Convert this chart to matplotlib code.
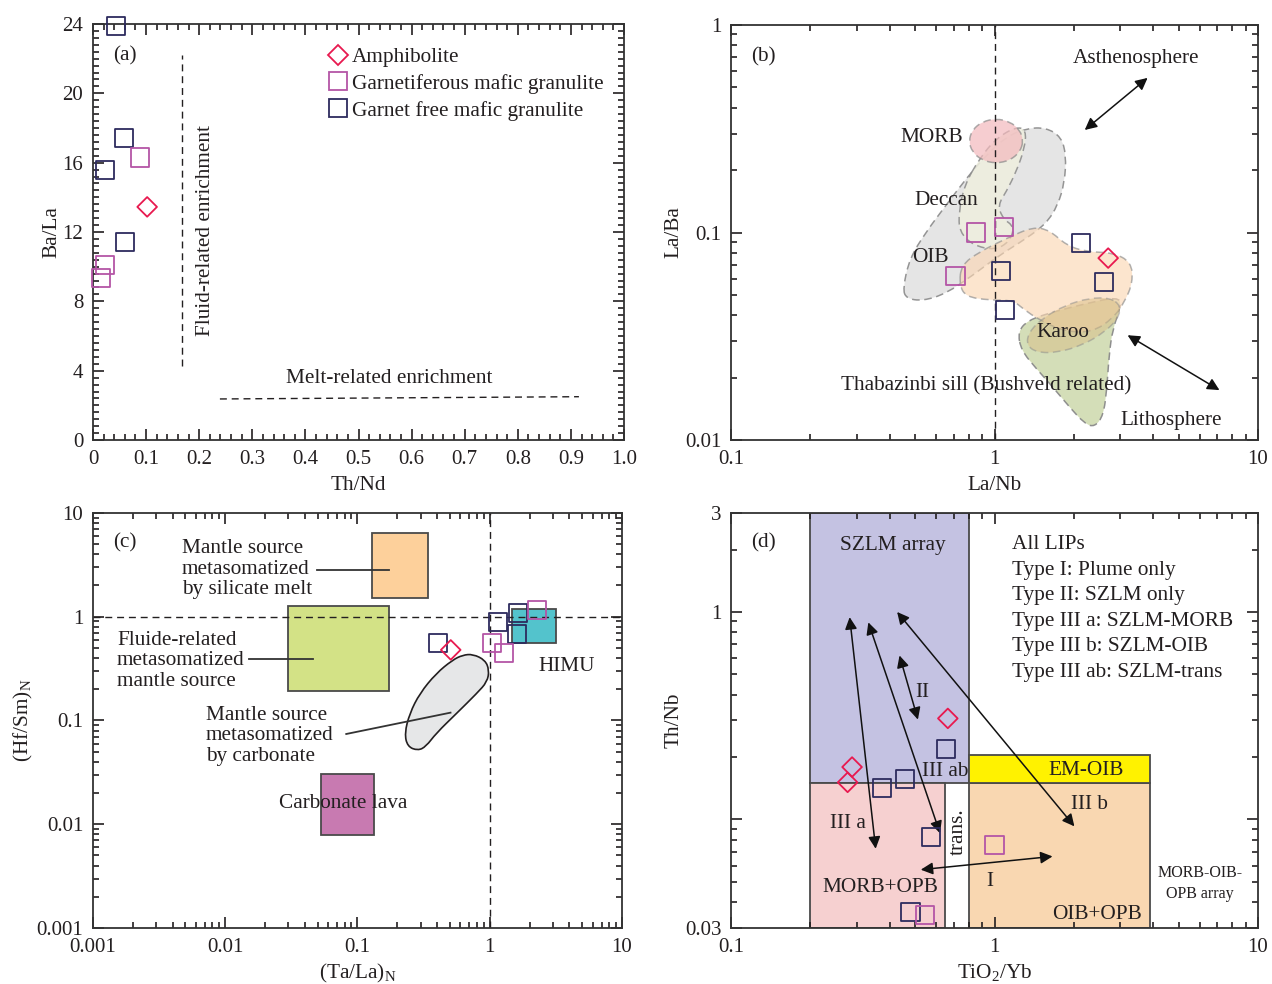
import numpy as np
import matplotlib
matplotlib.use("Agg")
import matplotlib.pyplot as plt
from matplotlib.path import Path
from matplotlib.patches import PathPatch, Rectangle
from matplotlib.ticker import MultipleLocator, LogLocator, NullFormatter, FixedLocator, FixedFormatter
from matplotlib.lines import Line2D

plt.rcParams['font.family'] = ['Liberation Serif', 'DejaVu Serif']
plt.rcParams['mathtext.fontset'] = 'custom'
plt.rcParams['mathtext.rm'] = 'Liberation Serif'
plt.rcParams['font.size'] = 15.3
plt.rcParams['text.color'] = '#231f20'
plt.rcParams['axes.labelcolor'] = '#231f20'
plt.rcParams['xtick.color'] = '#231f20'
plt.rcParams['ytick.color'] = '#231f20'

# colores de las muestras
C_AMPH = '#e8194f'
C_GTF = '#b455a6'
C_GFREE = '#2d2b5e'
TXT = '#231f20'
FS = 15.3

# ---------------- datos (a) Th/Nd vs Ba/La ----------------
a_amph_x = [0.102]
a_amph_y = [13.45]
a_gtf_x = [0.088, 0.023, 0.015]
a_gtf_y = [16.3, 10.1, 9.35]
a_gfree_x = [0.044, 0.058, 0.022, 0.060]
a_gfree_y = [23.9, 17.4, 15.6, 11.4]

# ---------------- datos (b) La/Nb vs La/Ba ----------------
b_amph_x = [2.70]
b_amph_y = [0.0753]
b_gtf_x = [0.848, 1.084, 0.711]
b_gtf_y = [0.100, 0.106, 0.062]
b_gfree_x = [2.13, 1.06, 2.61, 1.10]
b_gfree_y = [0.089, 0.065, 0.0575, 0.0424]

# campos (b)
oib_x = [0.449, 0.476, 0.550, 0.655, 0.781, 0.930, 1.107, 1.319, 1.571, 1.79,
         1.87, 1.845, 1.74, 1.571, 1.319, 1.045, 0.828, 0.655, 0.535, 0.462]
oib_y = [0.0537, 0.0750, 0.1007, 0.1355, 0.182, 0.236, 0.289, 0.318, 0.320, 0.289,
         0.236, 0.175, 0.1355, 0.1105, 0.0935, 0.0778, 0.0623, 0.0508, 0.0468, 0.0481]
deccan_x = [0.877, 1.015, 1.208, 1.319, 1.30, 1.208, 1.107, 1.03, 1.075, 1.191,
            1.14, 1.0, 0.828, 0.736, 0.732, 0.769]
deccan_y = [0.2275, 0.284, 0.3236, 0.312, 0.254, 0.196, 0.157, 0.1355, 0.1168, 0.1065,
            0.0902, 0.0822, 0.0869, 0.1007, 0.1259, 0.169]
morb_x = [1.288, 1.247, 1.143, 1.014, 0.899, 0.824, 0.798, 0.824, 0.899, 1.014, 1.143, 1.247]
morb_y = [0.276, 0.3126, 0.3423, 0.354, 0.3423, 0.3126, 0.276, 0.2438, 0.2226, 0.2153, 0.2226, 0.2438]
thab_x = [0.747, 0.877, 1.107, 1.398, 1.618, 1.871, 2.23, 2.81, 3.30, 3.35,
          3.12, 2.81, 2.36, 1.87, 1.482, 1.281, 1.174, 0.957, 0.781, 0.736]
thab_y = [0.0696, 0.0807, 0.0935, 0.1065, 0.1026, 0.0869, 0.0807, 0.080, 0.0722, 0.0578,
          0.0463, 0.0385, 0.0332, 0.0332, 0.0378, 0.043, 0.0472, 0.0472, 0.049, 0.0557]
litho_x = [1.226, 1.339, 1.665, 2.23, 2.94, 3.03, 2.81, 2.72, 2.67, 2.59,
           2.40, 2.20, 1.927, 1.665, 1.44, 1.262]
litho_y = [0.0332, 0.0378, 0.0414, 0.0455, 0.049, 0.0446, 0.0344, 0.0256, 0.0177, 0.01315,
           0.01156, 0.012, 0.0144, 0.018, 0.0221, 0.0271]
karoo_x = [3.01, 2.954, 2.61, 2.148, 1.733, 1.451, 1.324, 1.347, 1.524, 1.853, 2.297, 2.743]
karoo_y = [0.0446, 0.0387, 0.033, 0.0286, 0.0264, 0.0264, 0.0286, 0.033, 0.0387, 0.0446, 0.0484, 0.0484]

# ---------------- datos (c) (Ta/La)N vs (Hf/Sm)N ----------------
c_amph_x = [0.507]
c_amph_y = [0.479]
c_gtf_x = [2.27, 1.04, 1.28]
c_gtf_y = [1.16, 0.562, 0.445]
c_gfree_x = [0.408, 1.16, 1.64, 1.61]
c_gfree_y = [0.562, 0.89, 1.08, 0.682]

# cajas (xmin, xmax, ymin, ymax)
silicate_box = [0.129, 0.341, 1.52, 6.43]
fluid_box = [0.0297, 0.173, 0.194, 1.28]
carbonate_box = [0.0533, 0.1325, 0.0078, 0.0305]
himu_box = [1.47, 3.18, 0.553, 1.175]
carb_meta_x = [0.746, 0.923, 0.99, 0.957, 0.80, 0.561, 0.393, 0.329, 0.286, 0.239,
               0.227, 0.248, 0.296, 0.393, 0.522, 0.624]
carb_meta_y = [0.436, 0.382, 0.306, 0.236, 0.183, 0.117, 0.0752, 0.056, 0.0513, 0.056,
               0.0752, 0.117, 0.183, 0.284, 0.382, 0.427]

# ---------------- datos (d) TiO2/Yb vs Th/Nb ----------------
d_amph_x = [0.665, 0.288, 0.277]
d_amph_y = [0.307, 0.179, 0.151]
d_gtf_x = [1.0, 0.544]
d_gtf_y = [0.0755, 0.0348]
d_gfree_x = [0.655, 0.457, 0.373, 0.574, 0.48]
d_gfree_y = [0.219, 0.157, 0.142, 0.0822, 0.036]

szlm_box = [0.2, 0.8, 0.15, 3.0]
morb_opb_box = [0.2, 0.65, 0.03, 0.15]
em_oib_box = [0.8, 3.9, 0.15, 0.205]
oib_opb_box = [0.8, 3.9, 0.03, 0.15]

# flechas (inicio, fin)
d_arrows = [((0.282, 0.944), (0.354, 0.0723)),
            ((0.332, 0.891), (0.621, 0.0859)),
            ((0.427, 1.0), (2.01, 0.0927)),
            ((0.436, 0.617), (0.512, 0.303)),
            ((0.525, 0.0573), (1.66, 0.0664))]
b_arrows = [((2.20, 0.312), (3.81, 0.556)),
            ((3.2, 0.032), (7.14, 0.0174))]

lip_types = ["All LIPs", "Type I: Plume only", "Type II: SZLM only",
             "Type III a: SZLM-MORB", "Type III b: SZLM-OIB", "Type III ab: SZLM-trans"]


def smooth_patch(ax, xs, ys, **kw):
    # contorno cerrado redondeado (puntos medios en espacio log)
    lx, ly = np.log10(xs), np.log10(ys)
    n = len(lx)
    mids = [((lx[i] + lx[(i + 1) % n]) / 2, (ly[i] + ly[(i + 1) % n]) / 2) for i in range(n)]
    verts = [mids[-1]]
    codes = [Path.MOVETO]
    for i in range(n):
        verts += [(lx[i], ly[i]), mids[i]]
        codes += [Path.CURVE3, Path.CURVE3]
    verts.append(mids[-1])
    codes.append(Path.CLOSEPOLY)
    verts = 10 ** np.array(verts)
    ax.add_patch(PathPatch(Path(verts, codes), **kw))


def box(ax, b, fc, ec='#4a4a4a', lw=1.3, z=1):
    ax.add_patch(Rectangle((b[0], b[2]), b[1] - b[0], b[3] - b[2], facecolor=fc,
                           edgecolor=ec, linewidth=lw, zorder=z))


def samples(ax, ax_x, ax_y, gt_x, gt_y, gf_x, gf_y):
    kw = dict(facecolors='none', linewidths=1.3, clip_on=False, zorder=6)
    ax.scatter(gf_x, gf_y, marker='s', s=170, edgecolors=C_GFREE, **kw)
    ax.scatter(gt_x, gt_y, marker='s', s=170, edgecolors=C_GTF, **kw)
    ax.scatter(ax_x, ax_y, marker='D', s=100, edgecolors=C_AMPH, **kw)


def style(ax):
    for s in ax.spines.values():
        s.set_color('#333333')
        s.set_linewidth(1.3)
    ax.tick_params(which='both', direction='in', top=True, right=True, width=1.2, labelsize=15)
    ax.tick_params(which='major', length=8, pad=7)
    ax.tick_params(which='minor', length=4.5)


def log_axis(axis, ticks, labels):
    axis.set_major_locator(FixedLocator(ticks))
    axis.set_major_formatter(FixedFormatter(labels))
    axis.set_minor_locator(LogLocator(base=10, subs=range(2, 10), numticks=20))
    axis.set_minor_formatter(NullFormatter())


def arrow(ax, s, e):
    ax.annotate('', xy=e, xytext=s, arrowprops=dict(arrowstyle='<|-|>', color='#111111',
                                                    lw=1.1, mutation_scale=18, shrinkA=0, shrinkB=0),
                zorder=5)


fig = plt.figure(figsize=(12.72, 9.84), dpi=100)
axA = fig.add_axes([0.0731, 0.5528, 0.4175, 0.4228])
axB = fig.add_axes([0.5747, 0.5528, 0.4143, 0.4218])
axC = fig.add_axes([0.0731, 0.0569, 0.4159, 0.4218])
axD = fig.add_axes([0.5747, 0.0569, 0.4143, 0.4218])

# ---------------- (a) ----------------
samples(axA, a_amph_x, a_amph_y, a_gtf_x, a_gtf_y, a_gfree_x, a_gfree_y)
axA.plot([0.167, 0.167], [4.3, 22.2], ls=(0, (5, 3.5)), color=TXT, lw=1)
axA.plot([0.239, 0.915], [2.37, 2.5], ls=(0, (5, 3.5)), color=TXT, lw=1)
axA.text(0.212, 12.1, "Fluid-related enrichment", rotation=90, ha='center', va='center', fontsize=FS)
axA.text(0.557, 3.55, "Melt-related enrichment", ha='center', va='center', fontsize=FS)
axA.set_xlim(0, 1.0)
axA.set_ylim(0, 24)
axA.xaxis.set_major_locator(MultipleLocator(0.1))
axA.xaxis.set_minor_locator(MultipleLocator(0.02))
axA.yaxis.set_major_locator(MultipleLocator(4))
axA.yaxis.set_minor_locator(MultipleLocator(0.4))
axA.xaxis.set_major_formatter(plt.FuncFormatter(lambda v, p: '0' if abs(v) < 1e-9 else '%.1f' % v))
axA.set_xlabel("Th/Nd", labelpad=5)
axA.set_ylabel("Ba/La", labelpad=1)
handles = [Line2D([], [], marker='D', ls='none', mfc='none', mec=C_AMPH, ms=10, mew=1.3),
           Line2D([], [], marker='s', ls='none', mfc='none', mec=C_GTF, ms=13, mew=1.3),
           Line2D([], [], marker='s', ls='none', mfc='none', mec=C_GFREE, ms=13, mew=1.3)]
axA.legend(handles, ["Amphibolite", "Garnetiferous mafic granulite", "Garnet free mafic granulite"],
           loc='upper left', bbox_to_anchor=(0.442, 0.944), frameon=False, handlelength=1.0,
           handletextpad=0.15, labelspacing=0.32, borderaxespad=0, borderpad=0, fontsize=FS)
axA.text(0.06, 0.923, "(a)", transform=axA.transAxes, ha='center', va='center', fontsize=FS)
style(axA)

# ---------------- (b) ----------------
axB.set_xscale('log')
axB.set_yscale('log')
fkw = dict(linestyle=(0, (5, 3)), edgecolor='#8a8a8a', linewidth=1.1)
smooth_patch(axB, oib_x, oib_y, facecolor='#e3e3e3', alpha=0.9, zorder=1, **fkw)
smooth_patch(axB, deccan_x, deccan_y, facecolor='#efefdf', alpha=0.85, zorder=1.1, **fkw)
smooth_patch(axB, morb_x, morb_y, facecolor='#f3b9bd', alpha=0.7, zorder=1.2, **fkw)
smooth_patch(axB, litho_x, litho_y, facecolor='#d2ddb4', alpha=0.95, zorder=1.3, **fkw)
smooth_patch(axB, thab_x, thab_y, facecolor='#fbd7b4', alpha=0.65, zorder=1.4, **fkw)
smooth_patch(axB, karoo_x, karoo_y, facecolor='#d9be86', alpha=0.5, zorder=1.5, **fkw)
axB.axvline(1, ls=(0, (5, 3.5)), color=TXT, lw=1, zorder=2)
samples(axB, b_amph_x, b_amph_y, b_gtf_x, b_gtf_y, b_gfree_x, b_gfree_y)
for s, e in b_arrows:
    arrow(axB, s, e)
axB.text(3.43, 0.686, "Asthenosphere", ha='center', va='center', fontsize=FS)
axB.text(0.58, 0.288, "MORB", ha='center', va='center', fontsize=FS)
axB.text(0.657, 0.142, "Deccan", ha='center', va='center', fontsize=FS)
axB.text(0.571, 0.0754, "OIB", ha='center', va='center', fontsize=FS)
axB.text(1.81, 0.0331, "Karoo", ha='center', va='center', fontsize=FS, zorder=7)
axB.text(0.933, 0.0182, "Thabazinbi sill (Bushveld related)", ha='center', va='center', fontsize=FS, zorder=7)
axB.text(4.7, 0.0124, "Lithosphere", ha='center', va='center', fontsize=FS)
axB.text(0.061, 0.923, "(b)", transform=axB.transAxes, ha='center', va='center', fontsize=FS)
axB.set_xlim(0.1, 10)
axB.set_ylim(0.01, 1)
log_axis(axB.xaxis, [0.1, 1, 10], ['0.1', '1', '10'])
log_axis(axB.yaxis, [0.01, 0.1, 1], ['0.01', '0.1', '1'])
axB.set_xlabel("La/Nb", labelpad=5)
axB.set_ylabel("La/Ba", labelpad=1)
style(axB)

# ---------------- (c) ----------------
axC.set_xscale('log')
axC.set_yscale('log')
box(axC, silicate_box, '#fdd09b')
box(axC, fluid_box, '#d3e286')
box(axC, carbonate_box, '#c87ab1')
box(axC, himu_box, '#53c3cc')
smooth_patch(axC, carb_meta_x, carb_meta_y, facecolor='#e6e7e8', edgecolor='#231f20', linewidth=1.2, zorder=1)
axC.axhline(1, ls=(0, (5, 3.5)), color=TXT, lw=1, zorder=2)
axC.axvline(1, ls=(0, (5, 3.5)), color=TXT, lw=1, zorder=2)
axC.plot([0.0493, 0.173], [2.81, 2.81], color='#333333', lw=1.3, zorder=3)
axC.plot([0.0151, 0.0459], [0.393, 0.393], color='#333333', lw=1.3, zorder=3)
axC.plot([0.0822, 0.505], [0.0741, 0.119], color='#333333', lw=1.3, zorder=3)
samples(axC, c_amph_x, c_amph_y, c_gtf_x, c_gtf_y, c_gfree_x, c_gfree_y)
axC.text(0.00471, 2.88, "Mantle source\nmetasomatized\nby silicate melt", ha='left', va='center',
         fontsize=FS, linespacing=1.1)
axC.text(0.00152, 0.375, "Fluide-related\nmetasomatized\nmantle source", ha='left', va='center',
         fontsize=FS, linespacing=1.1)
axC.text(0.00715, 0.071, "Mantle source\nmetasomatized\nby carbonate", ha='left', va='center',
         fontsize=FS, linespacing=1.1)
axC.text(0.0776, 0.0157, "Carbonate lava", ha='center', va='center', fontsize=FS)
axC.text(3.84, 0.335, "HIMU", ha='center', va='center', fontsize=FS)
axC.text(0.06, 0.928, "(c)", transform=axC.transAxes, ha='center', va='center', fontsize=FS)
axC.set_xlim(0.001, 10)
axC.set_ylim(0.001, 10)
log_axis(axC.xaxis, [0.001, 0.01, 0.1, 1, 10], ['0.001', '0.01', '0.1', '1', '10'])
log_axis(axC.yaxis, [0.001, 0.01, 0.1, 1, 10], ['0.001', '0.01', '0.1', '1', '10'])
axC.set_xlabel(r"(Ta/La)$_\mathrm{N}$", labelpad=4)
axC.set_ylabel(r"(Hf/Sm)$_\mathrm{N}$", labelpad=1)
style(axC)

# ---------------- (d) ----------------
axD.set_xscale('log')
axD.set_yscale('log')
box(axD, szlm_box, '#c4c2e2')
box(axD, morb_opb_box, '#f6d0d0')
box(axD, oib_opb_box, '#f9d7b1')
box(axD, em_oib_box, '#fff200')
samples(axD, d_amph_x, d_amph_y, d_gtf_x, d_gtf_y, d_gfree_x, d_gfree_y)
for s, e in d_arrows:
    arrow(axD, s, e)
axD.text(0.411, 2.09, "SZLM array", ha='center', va='center', fontsize=FS)
for i, t in enumerate(lip_types):
    axD.text(0.534, 0.924 - i * 0.0617, t, transform=axD.transAxes, ha='left', va='center', fontsize=FS)
axD.text(0.53, 0.41, "II", ha='center', va='center', fontsize=FS)
axD.text(0.65, 0.171, "III ab", ha='center', va='center', fontsize=FS)
axD.text(2.23, 0.172, "EM-OIB", ha='center', va='center', fontsize=FS)
axD.text(2.30, 0.118, "III b", ha='center', va='center', fontsize=FS)
axD.text(0.279, 0.0953, "III a", ha='center', va='center', fontsize=FS)
axD.text(0.726, 0.087, "trans.", rotation=90, ha='center', va='center', fontsize=FS)
axD.text(0.96, 0.0504, "I", ha='center', va='center', fontsize=FS)
axD.text(0.369, 0.0468, "MORB+OPB", ha='center', va='center', fontsize=FS)
axD.text(2.44, 0.0349, "OIB+OPB", ha='center', va='center', fontsize=FS)
axD.text(6.03, 0.049, "MORB-OIB-\nOPB array", ha='center', va='center', fontsize=11.5, linespacing=1.4)
axD.text(0.061, 0.928, "(d)", transform=axD.transAxes, ha='center', va='center', fontsize=FS)
axD.set_xlim(0.1, 10)
axD.set_ylim(0.03, 3)
log_axis(axD.xaxis, [0.1, 1, 10], ['0.1', '1', '10'])
log_axis(axD.yaxis, [0.03, 0.1, 1, 3], ['0.03', '', '1', '3'])
axD.set_xlabel(r"TiO$_2$/Yb", labelpad=4)
axD.set_ylabel("Th/Nb", labelpad=1)
style(axD)

fig.savefig("out.png", dpi=100)
